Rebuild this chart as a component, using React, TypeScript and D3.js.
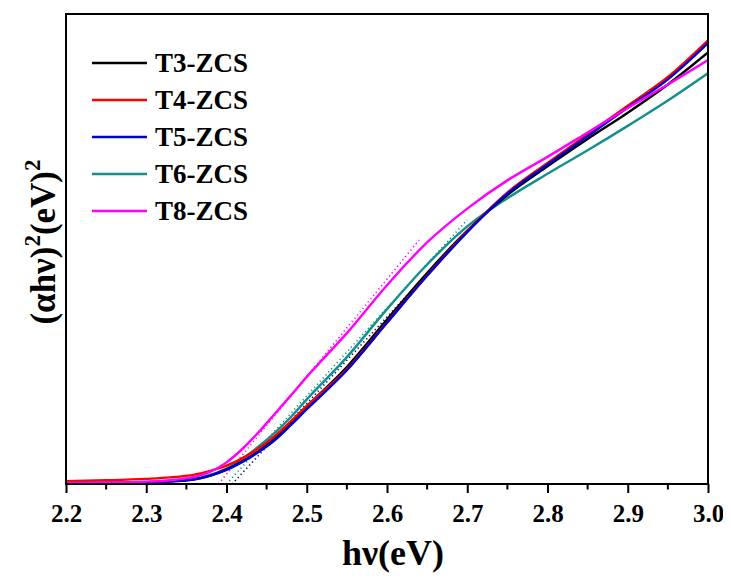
import React, { useRef, useEffect } from 'react';
import * as d3 from 'd3';

// photon energy grid (eV)
const energy = [2.2, 2.25, 2.3, 2.33, 2.36, 2.38, 2.4, 2.42, 2.44, 2.46, 2.48, 2.5, 2.55, 2.6, 2.65, 2.7, 2.75, 2.8, 2.85, 2.9, 2.95, 3.0];

// (αhν)^2, arbitrary units
const t3 = [0.15, 0.2, 0.35, 0.55, 1.0, 1.8, 3.1, 4.9, 7.0, 9.7, 13.0, 16.5, 24.9, 35.0, 44.9, 53.9, 61.5, 67.6, 73.4, 79.0, 85.0, 91.8];
const t4 = [0.6, 0.8, 1.1, 1.4, 2.0, 2.8, 3.9, 5.5, 7.6, 10.2, 13.3, 16.6, 24.4, 34.4, 44.4, 53.8, 62.0, 68.3, 74.4, 80.5, 86.6, 94.4];
const t5 = [0.15, 0.2, 0.35, 0.55, 1.0, 1.8, 3.0, 4.7, 6.8, 9.3, 12.5, 15.9, 24.2, 34.3, 44.3, 53.6, 61.8, 68.0, 74.0, 80.1, 86.1, 93.8];
const t6 = [0.2, 0.25, 0.4, 0.6, 1.1, 2.0, 3.3, 5.4, 8.0, 10.9, 14.2, 18.0, 27.0, 37.2, 46.7, 54.8, 60.8, 66.0, 71.0, 76.2, 81.6, 87.4];
const t8 = [0.2, 0.3, 0.5, 0.8, 1.5, 2.6, 4.6, 7.5, 11.0, 14.9, 18.8, 22.8, 32.1, 42.3, 51.4, 58.6, 64.6, 69.6, 74.8, 80.0, 85.0, 90.2];

const labels = ['T3-ZCS', 'T4-ZCS', 'T5-ZCS', 'T6-ZCS', 'T8-ZCS'];
const colors = ['#000000', '#ff0000', '#0000d0', '#13908c', '#ff00ff'];
const seriesValues = [t3, t4, t5, t6, t8];

// linear fits for band gap extrapolation: [x0, y0, x1, y1]
const fitLines = [
  { color: '#ff00ff', pts: [2.39, 0, 2.64, 51.9] },
  { color: '#13908c', pts: [2.40, 0, 2.70, 56.2] },
  { color: '#000060', pts: [2.407, 0, 2.665, 47.5] },
];

const xTicks = [2.2, 2.3, 2.4, 2.5, 2.6, 2.7, 2.8, 2.9, 3.0];

const FONT = "'Liberation Serif', 'Times New Roman', 'DejaVu Serif', serif";

const Chart = () => {
  const svgRef = useRef<SVGSVGElement>(null);

  useEffect(() => {
    const margin = { top: 14, right: 23, bottom: 97, left: 66 },
          width = 731 - margin.left - margin.right,
          height = 581 - margin.top - margin.bottom;

    const root = d3.select(svgRef.current);
    root.selectAll('*').remove();

    const svg = root.append('g')
      .attr('transform', `translate(${margin.left},${margin.top})`);

    const x = d3.scaleLinear().domain([2.2, 3.0]).range([0, width]);
    const y = d3.scaleLinear().domain([0, 100]).range([height, 0]);

    svg.append('clipPath').attr('id', 'plot-clip')
      .append('rect').attr('width', width).attr('height', height);

    // fit lines (dotted)
    svg.append('g').selectAll('line')
      .data(fitLines)
      .join('line')
      .attr('x1', d => x(d.pts[0]))
      .attr('y1', d => y(d.pts[1]))
      .attr('x2', d => x(d.pts[2]))
      .attr('y2', d => y(d.pts[3]))
      .attr('stroke', d => d.color)
      .attr('stroke-width', 1.6)
      .attr('stroke-dasharray', '1.2 3');

    const line = d3.line<number>()
      .x((d, i) => x(energy[i]))
      .y(d => y(d))
      .curve(d3.curveMonotoneX);

    // teal first, magenta last
    const order = [3, 0, 1, 2, 4];
    svg.append('g').attr('clip-path', 'url(#plot-clip)')
      .selectAll('path')
      .data(order)
      .join('path')
      .attr('fill', 'none')
      .attr('stroke', i => colors[i])
      .attr('stroke-width', 2.4)
      .attr('d', i => line(seriesValues[i]));

    // frame
    svg.append('rect')
      .attr('width', width)
      .attr('height', height)
      .attr('fill', 'none')
      .attr('stroke', '#000')
      .attr('stroke-width', 2);

    // x axis
    const xAxis = svg.append('g')
      .attr('transform', `translate(0,${height})`)
      .call(d3.axisBottom(x).tickValues(xTicks).tickSize(9).tickPadding(11).tickFormat(d3.format('.1f')));
    xAxis.select('.domain').remove();
    xAxis.selectAll('line').attr('stroke-width', 2);
    xAxis.selectAll('text')
      .style('font-family', FONT)
      .style('font-weight', 'bold')
      .style('font-size', '25px')
      .attr('fill', '#000');

    // minor ticks
    svg.append('g').selectAll('line')
      .data(d3.range(8).map(i => 2.25 + i * 0.1))
      .join('line')
      .attr('x1', d => x(d)).attr('x2', d => x(d))
      .attr('y1', height).attr('y2', height + 5.5)
      .attr('stroke', '#000')
      .attr('stroke-width', 2);

    // axis titles
    svg.append('text')
      .attr('x', width / 2 + 6)
      .attr('y', height + 81)
      .attr('text-anchor', 'middle')
      .style('font-family', FONT)
      .style('font-weight', 'bold')
      .style('font-size', '36px')
      .text('hν(eV)');

    const yTitle = svg.append('text')
      .attr('transform', `translate(${-11},${228}) rotate(-90)`)
      .attr('text-anchor', 'middle')
      .style('font-family', FONT)
      .style('font-weight', 'bold')
      .style('font-size', '35px');
    yTitle.append('tspan').text('(αhν)');
    yTitle.append('tspan').attr('dy', -15).style('font-size', '23px').text('2');
    yTitle.append('tspan').attr('dy', 15).text('(eV)');
    yTitle.append('tspan').attr('dy', -15).style('font-size', '23px').text('2');

    // legend
    const legend = svg.append('g').attr('transform', 'translate(26,49)');
    labels.forEach((name, i) => {
      const row = legend.append('g').attr('transform', `translate(0,${i * 37})`);
      row.append('line')
        .attr('x1', 0).attr('x2', 55)
        .attr('stroke', colors[i])
        .attr('stroke-width', 2.6);
      row.append('text')
        .attr('x', 63)
        .attr('y', 9)
        .style('font-family', FONT)
        .style('font-weight', 'bold')
        .style('font-size', '27px')
        .text(name);
    });
  }, []);

  return <svg ref={svgRef} width={731} height={581} style={{ display: 'block' }}></svg>;
};

export default function App() {
  return (
    <div style={{ margin: -8 }}>
      <Chart />
    </div>
  );
}
